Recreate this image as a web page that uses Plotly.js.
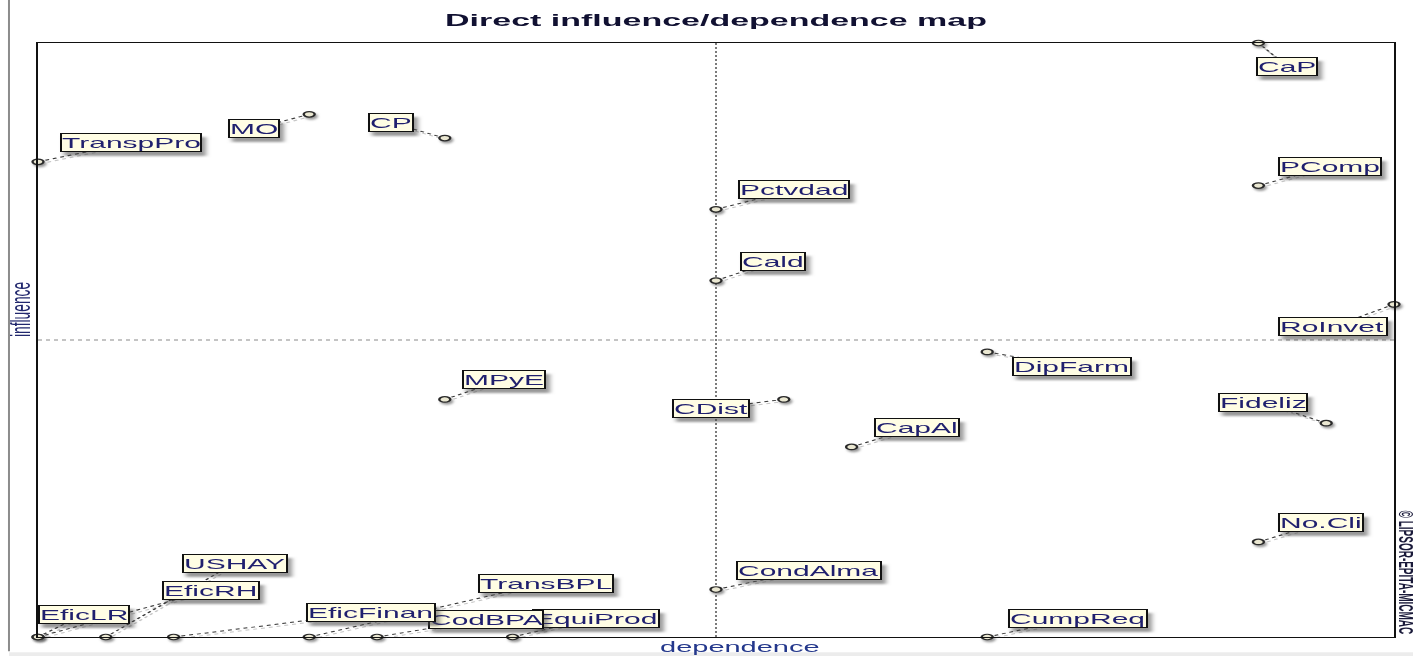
<!DOCTYPE html>
<html>
<head>
<meta charset="utf-8">
<script src="https://cdn.plot.ly/plotly-3.0.1.min.js"></script>
<style>
html,body{margin:0;padding:0;background:#fff;overflow:hidden;width:1424px;height:656px}
#chart{width:712px;height:656px;transform:scale(2,1);transform-origin:0 0}
#chart .annotation rect.bg{filter:drop-shadow(2px 4px 1.2px rgba(70,70,70,0.55))}
#chart .scatterlayer .point{filter:drop-shadow(1px 2px 0.8px rgba(70,70,70,0.55))}
</style>
</head>
<body>
<div id="chart"></div>
<script>
const variables = ['CaP','MO','CP','TranspPro','PComp','Pctvdad','Cald','RoInvet','DipFarm','MPyE','CDist','Fideliz','CapAl','No.Cli','CondAlma','CumpReq','EficLR','EficRH','USHAY','EficFinan','TransBPL','CodBPA','EquiProd'];
const dependence = [18,4,6,0,18,10,10,20,14,6,11,19,12,18,10,14,0,0,1,2,4,5,7];
const influence  = [25,22,21,20,19,18,15,14,12,10,10,9,8,4,2,0,0,0,0,0,0,0,0];
const dependenceRange = [0, 20];
const influenceRange  = [0, 25];

// ---- label placement (screen pixels: right, down) ----
const labelDx = [29,-55,-54.5,93,72.5,78.5,57,-62,85.5,60,-72,-64,64.5,63,92.5,90.5,46.5,173,129.5,197.5,236.5,109.5,82.5];
const labelDy = [23.5,14.5,-15.5,-19,-19.5,-19.5,-19,22.5,15,-20,9,-21,-19.5,-19,-19,-19,-23,-47,-74,-24.5,-54,-18,-19];

const STRETCH = 2;
const FONT = '"Liberation Sans", Arial, Helvetica, sans-serif';

const shapes = [];
// mean (centre) lines
const xMid = (dependenceRange[0] + dependenceRange[1]) / 2;
const yMid = (influenceRange[0] + influenceRange[1]) / 2;
shapes.push({type:'line', layer:'below', xref:'x', yref:'paper', x0:xMid, x1:xMid, y0:0, y1:1,
  line:{color:'#7a7a7a', width:1, dash:'2px,2px'}});
shapes.push({type:'line', layer:'below', xref:'paper', yref:'y', x0:0, x1:1, y0:yMid, y1:yMid,
  line:{color:'#8a8a8a', width:1, dash:'2px,2px'}});

// leader lines (shadow + dotted line) from each point to its label
for (let i = 0; i < variables.length; i++) {
  const dx = labelDx[i] / STRETCH, dy = -labelDy[i];
  shapes.push({type:'line', layer:'below', xref:'x', yref:'y',
    xsizemode:'pixel', ysizemode:'pixel', xanchor:dependence[i], yanchor:influence[i],
    x0:1, x1:dx + 1, y0:-2, y1:dy - 2,
    line:{color:'#c6c6c6', width:1, dash:'2px,2px'}});
  shapes.push({type:'line', layer:'below', xref:'x', yref:'y',
    xsizemode:'pixel', ysizemode:'pixel', xanchor:dependence[i], yanchor:influence[i],
    x0:0, x1:dx, y0:0, y1:dy,
    line:{color:'#3a3a3a', width:1, dash:'2px,2px'}});
}
// outer frame pieces (left gray rule, bottom band)
shapes.push({type:'line', layer:'above', xref:'paper', yref:'paper', x0:-0.0214, x1:-0.0214, y0:-0.024, y1:1.08,
  line:{color:'#8c8c8c', width:1}});
shapes.push({type:'rect', layer:'below', xref:'paper', yref:'paper', x0:-0.0214, x1:1.014, y0:-0.033, y1:-0.0255,
  fillcolor:'#ececec', line:{width:0}});

const annotations = [];
for (let i = variables.length - 1; i >= 0; i--) {
  annotations.push({x:dependence[i], y:influence[i], xref:'x', yref:'y', text:variables[i],
    showarrow:false, xshift:labelDx[i] / STRETCH, yshift:-labelDy[i],
    xanchor:'center', yanchor:'middle',
    bgcolor:'#fffde4', bordercolor:'#111111', borderwidth:1, borderpad:0,
    font:{family:FONT, size:15, color:'#1f1f6e'}});
}
// axis titles and credit
annotations.push({xref:'paper', yref:'paper', x:0.517, y:-0.0168, text:'dependence', showarrow:false,
  xanchor:'center', yanchor:'middle', font:{family:FONT, size:14.5, color:'#24388c'}});
annotations.push({xref:'paper', yref:'paper', x:-0.0133, y:0.552, text:'influence', showarrow:false, textangle:-90,
  xanchor:'center', yanchor:'middle', font:{family:FONT, size:13.8, color:'#22286e'}});
annotations.push({xref:'paper', yref:'paper', x:1.0096, y:0.1094, text:'© LIPSOR-EPITA-MICMAC', showarrow:false, textangle:90,
  xanchor:'center', yanchor:'middle', font:{family:FONT, size:10, weight:'bold', color:'#1a1a3a'}});

const trace = {
  type:'scatter', mode:'markers', x:dependence, y:influence, text:variables,
  cliponaxis:false, hoverinfo:'text',
  marker:{symbol:'circle', size:5.5, color:'#ebe8d2', line:{color:'#2a2a2a', width:1.2}}
};

const layout = {
  width:712, height:656,
  margin:{l:19, r:15, t:43, b:19, pad:0},
  paper_bgcolor:'#ffffff', plot_bgcolor:'#ffffff',
  title:{text:'Direct influence/dependence map', x:0.5, xref:'paper', xanchor:'center',
    y:1 - 20/656, yref:'container', yanchor:'middle',
    font:{family:FONT, size:17, weight:'bold', color:'#111132'}},
  xaxis:{range:dependenceRange, showgrid:false, zeroline:false, showticklabels:false, ticks:'',
    showline:true, mirror:true, linecolor:'#111111', linewidth:1, fixedrange:true},
  yaxis:{range:influenceRange, showgrid:false, zeroline:false, showticklabels:false, ticks:'',
    showline:true, mirror:true, linecolor:'#111111', linewidth:1, fixedrange:true},
  showlegend:false, hovermode:false,
  shapes:shapes, annotations:annotations
};

Plotly.newPlot('chart', [trace], layout, {displayModeBar:false, responsive:false});
</script>
</body>
</html>
